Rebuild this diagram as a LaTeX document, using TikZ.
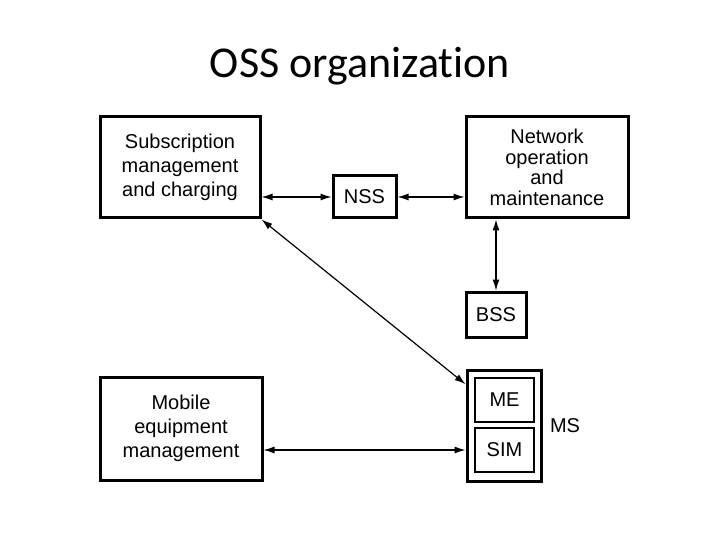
\documentclass[tikz,border=0pt]{standalone}
\usepackage{fontspec}
\setmainfont{Liberation Sans}
\newfontfamily\titlefont[Ligatures=NoCommon]{Carlito}
\usetikzlibrary{arrows.meta, positioning}
\tikzstyle{block} = [rectangle, draw=black, line width=3pt, text centered, align=center, inner sep=0pt, font=\fontsize{20}{24}\selectfont]
\tikzstyle{part} = [rectangle, draw=black, line width=1.6pt, text centered, inner sep=0pt, minimum width=59pt, minimum height=44pt, font=\fontsize{20}{24}\selectfont]
\tikzstyle{arrow} = [line width=1.2pt,<->,>={Latex[length=11pt,width=7pt]}]

\begin{document}
\begin{tikzpicture}[x=1pt, y=-1pt]
        \useasboundingbox (0,0) rectangle (720,540);
        \node (title) at (360,66) {\titlefont\fontsize{44}{50}\selectfont OSS organization};

        \node (sub) [block, minimum width=160pt, minimum height=101pt] at (180,167.5) {Subscription\\management\\and charging};
        \node (nss) [block, minimum width=63pt, minimum height=42pt] at (364.5,197) {NSS};
        \node (net) [block, minimum width=162pt, minimum height=101pt, font=\fontsize{20}{20.5}\selectfont] at (547,167.5) {Network\\operation\\and\\maintenance};
        \node (bss) [block, minimum width=60pt, minimum height=45pt] at (496,314.5) {BSS};
        \node (ms) [block, minimum width=74pt, minimum height=111pt] at (504,425.5) {};
        \node (me) [part] at (504.5,400) {ME};
        \node (sim) [part] at (504.5,450) {SIM};
        \node (mslabel) [right=4pt of ms, font=\fontsize{20}{24}\selectfont] {MS};
        \node (mob) [block, minimum width=162pt, minimum height=103pt] at (181,428.5) {Mobile\\equipment\\management};

        \draw [arrow] (sub.east |- nss.west) -- (nss.west);
        \draw [arrow] (nss.east) -- (nss.east -| net.west);
        \draw [arrow] (bss.north) -- (bss.north |- net.south);
        \draw [arrow] (sub.south east) -- (ms.133);
        \draw [arrow] (mob.east |- sim.west) -- (sim.west -| ms.west);
    \end{tikzpicture}
\end{document}
